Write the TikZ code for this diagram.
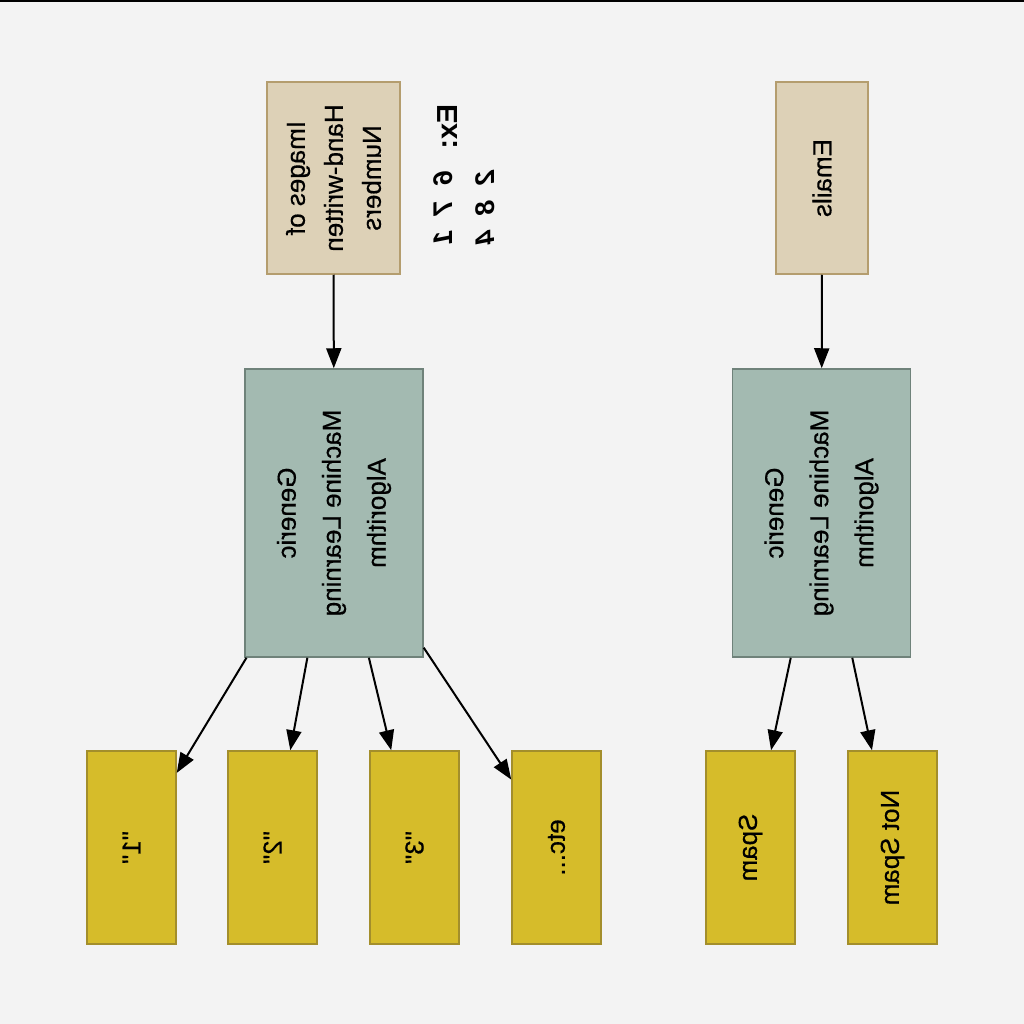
\documentclass[tikz,border=0pt]{standalone}
\usepackage{fontspec}
\setmainfont{Liberation Sans}[UprightFeatures={FakeBold=0.5}]
\usetikzlibrary{arrows.meta}

\definecolor{bgcol}{HTML}{F3F3F3}
\definecolor{inputfill}{HTML}{DDD1B7}
\definecolor{inputdraw}{HTML}{B49D6E}
\definecolor{algofill}{HTML}{A3BAB1}
\definecolor{algodraw}{HTML}{6F827A}
\definecolor{outfill}{HTML}{D6BC2A}
\definecolor{outdraw}{HTML}{A38E2B}

\begin{document}
\begin{tikzpicture}[
  x=1pt, y=1pt, yscale=-1,
  every node/.style={rotate=90, transform shape},
  font=\fontsize{26}{38}\selectfont,
  box/.style={draw, line width=1.5pt, align=center, inner sep=0pt},
  inbox/.style={box, fill=inputfill, draw=inputdraw, minimum width=192pt},
  algbox/.style={box, fill=algofill, draw=algodraw,
                 minimum width=288pt, minimum height=178pt,
                 font=\fontsize{26}{45}\selectfont},
  outbox/.style={box, fill=outfill, draw=outdraw,
                 minimum width=193pt, minimum height=89pt},
  ex/.style={font=\fontsize{29}{34}\selectfont\bfseries},
  digits/.style={font=\fontsize{27}{30}\selectfont\bfseries\itshape},
  arr/.style={line width=2pt, -{Triangle[length=20pt, width=15pt]}}
]
% Page background, with the dark rim along the top.
\fill[bgcol] (0,0) rectangle (1024,1024);
\fill[black] (0,0) rectangle (1024,2);

% Inputs: hand-written digits on the left, emails on the right.
\node[inbox, minimum height=133pt] (images) at (333.5,178) {Images of\\Hand-written\\Numbers};
\node[inbox, minimum height=92pt] (emails) at (822,178) {Emails};

% Example digits next to the image input.
\node[ex] (exlbl) at (448,127) {Ex:};
\node[digits] (digitsa) at (443,208) {6~~7~~1};
\node[digits] (digitsb) at (485,208) {2~~8~~4};

% The same generic learner in both columns.
\node[algbox] (algnum) at (334,513) {Generic\\Machine Learning\\Algorithm};
\node[algbox] (algmail) at (821.5,513) {Generic\\Machine Learning\\Algorithm};

% Outputs.
\node[outbox] (one) at (131.5,847.5) {\textquotedbl 1\textquotedbl};
\node[outbox] (two) at (272.5,847.5) {\textquotedbl 2\textquotedbl};
\node[outbox] (three) at (414.5,847.5) {\textquotedbl 3\textquotedbl};
\node[outbox] (etc) at (556.5,847.5) {etc...};
\node[outbox] (spam) at (750.5,847.5) {Spam};
\node[outbox] (notspam) at (892.5,847.5) {Not Spam};

% Flow arrows.
\draw[arr] (images) -- (algnum);
\draw[arr] (emails) -- (algmail);
\foreach \out in {one,two,three,etc}
  \draw[arr] (algnum) -- (\out);
\draw[arr] (algmail) -- (spam);
\draw[arr] (algmail) -- (notspam);
\end{tikzpicture}
\end{document}
